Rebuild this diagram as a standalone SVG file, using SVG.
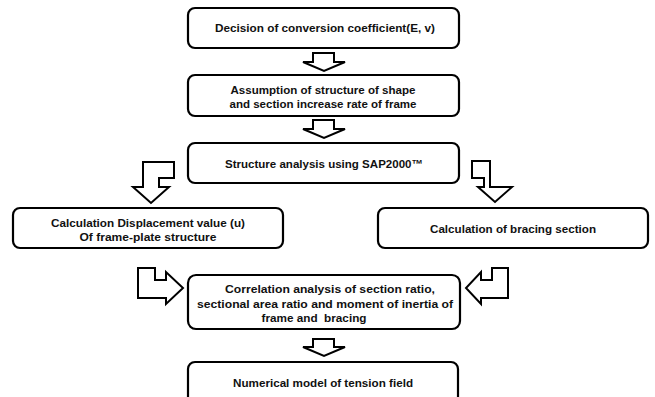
<svg xmlns="http://www.w3.org/2000/svg" width="655" height="397" viewBox="0 0 655 397">
<style>
.box{fill:#fff;stroke:#000;stroke-width:2.2}
.arr{fill:#fff;stroke:#000;stroke-width:2;stroke-linejoin:miter}
text{font-family:"Liberation Sans",Arial,sans-serif;font-weight:bold;font-size:11.5px;fill:#111;text-anchor:middle}
</style>
<rect width="655" height="397" fill="#fff"/>
<g id="connectors">
<polygon class="arr" points="313,53 334,53 334,62 345,62 324,71 303,62 313,62"/>
<polygon class="arr" points="313,120 334,120 334,129 345,129 324,138 303,129 313,129"/>
<polygon class="arr" points="143,162 174,162 174,178 159,178 159,187 169,187 151,203 133,187 143,187"/>
<polygon class="arr" points="472,161 490,161 490,187 512,187 495,202 478,187 484,187 484,178 472,178"/>
<polygon class="arr" points="138,268 155,268 155,280 166,280 166,272 183,288 166,304 166,298 138,298"/>
<polygon class="arr" points="508,268 492,268 492,280 481,280 481,272 466,288 481,304 481,298 508,298"/>
<polygon class="arr" points="313,339 334,339 334,347 345,347 324,356 303,347 313,347"/>
</g>
<g id="n1"><rect class="box" x="188" y="8" width="271" height="40" rx="7"/><text x="325" y="32" textLength="220" lengthAdjust="spacingAndGlyphs">Decision of conversion coefficient(E, v)</text></g>
<g id="n2"><rect class="box" x="188" y="75" width="271" height="41" rx="7"/><text x="323" y="94" textLength="185" lengthAdjust="spacingAndGlyphs">Assumption of structure of shape</text><text x="323" y="108" textLength="187" lengthAdjust="spacingAndGlyphs">and section increase rate of frame</text></g>
<g id="n3"><rect class="box" x="188" y="143" width="271" height="40" rx="7"/><text x="324" y="168" textLength="198" lengthAdjust="spacingAndGlyphs">Structure analysis using SAP2000™</text></g>
<g id="n4"><rect class="box" x="13" y="208" width="270" height="40" rx="7"/><text x="148" y="227" textLength="194" lengthAdjust="spacingAndGlyphs">Calculation Displacement value (u)</text><text x="148" y="241" textLength="137" lengthAdjust="spacingAndGlyphs">Of frame-plate structure</text></g>
<g id="n5"><rect class="box" x="378" y="208" width="270" height="40" rx="7"/><text x="513" y="233" textLength="166" lengthAdjust="spacingAndGlyphs">Calculation of bracing section</text></g>
<g id="n6"><rect class="box" x="188" y="275" width="272" height="54" rx="8"/><text x="330" y="293" textLength="210" lengthAdjust="spacingAndGlyphs">Correlation analysis of section ratio,</text><text x="325" y="308" textLength="256" lengthAdjust="spacingAndGlyphs">sectional area ratio and moment of inertia of</text><text x="314" y="322" textLength="105" lengthAdjust="spacingAndGlyphs" xml:space="preserve">frame and  bracing</text></g>
<g id="n7"><rect class="box" x="188" y="362" width="270" height="45" rx="7"/><text x="323" y="387" textLength="180" lengthAdjust="spacingAndGlyphs">Numerical model of tension field</text></g>
</svg>
